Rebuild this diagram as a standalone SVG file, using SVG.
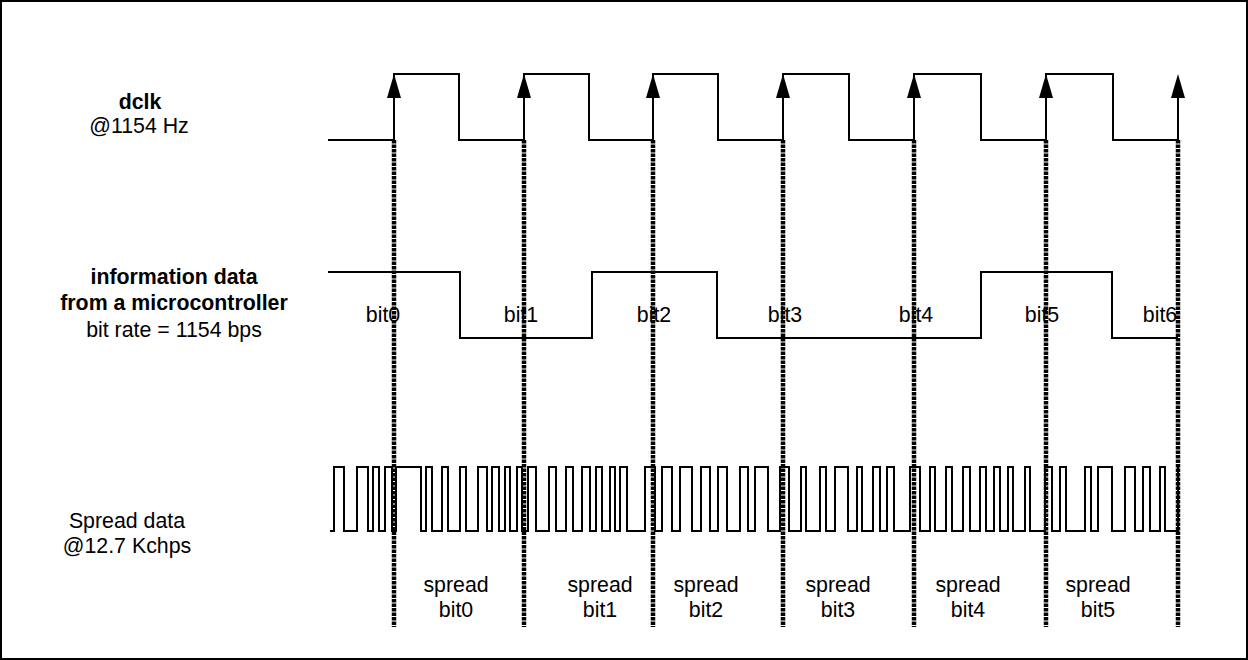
<svg xmlns="http://www.w3.org/2000/svg" width="1248" height="660" viewBox="0 0 1248 660">
<style>
.w{fill:none;stroke:#000;stroke-width:2;stroke-linejoin:miter}
.d{stroke:#000;stroke-width:4.5;stroke-dasharray:3.5 1}
.a{stroke:#000;stroke-width:2}
.h{fill:#000}
.t{font-family:"Liberation Sans",Arial,sans-serif;font-size:21.33px;fill:#000;text-anchor:middle}
.b{font-weight:bold}
</style>
<rect x="1" y="1" width="1246" height="658" fill="#fff" stroke="#000" stroke-width="2"/>
<g id="labels">
<text class="t b" x="140" y="109">dclk</text>
<text class="t" x="139" y="133">@1154 Hz</text>
<text class="t b" x="174" y="284">information data</text>
<text class="t b" x="174" y="310">from a microcontroller</text>
<text class="t" x="174" y="337">bit rate = 1154 bps</text>
<text class="t" x="127" y="528">Spread data</text>
<text class="t" x="127" y="553">@12.7 Kchps</text>
</g>
<g id="connectors">
<path class="d" d="M394,140V627M524,140V627M653,140V627M783,140V627M914,140V627M1046,140V627M1178,140V627"/>
<path class="a" d="M394,140V96M524,140V96M653,140V96M783,140V96M914,140V96M1046,140V96M1178,140V96"/>
<g class="h">
<polygon points="387,98 394,74 401,98"/>
<polygon points="517,98 524,74 531,98"/>
<polygon points="646,98 653,74 660,98"/>
<polygon points="776,98 783,74 790,98"/>
<polygon points="907,98 914,74 921,98"/>
<polygon points="1039,98 1046,74 1053,98"/>
<polygon points="1171,98 1178,74 1185,98"/>
</g>
</g>
<g id="dclk">
<path class="w" d="M328,140H394V74H459V140H524V74H589V140H653V74H718V140H783V74H849V140H914V74H981V140H1046V74H1113V140H1178"/>
</g>
<g id="data">
<path class="w" d="M328,272H460V338H592V272H717V338H981V272H1112V338H1178"/>
<text class="t" x="383" y="322">bit0</text>
<text class="t" x="521" y="322">bit1</text>
<text class="t" x="654" y="322">bit2</text>
<text class="t" x="785" y="322">bit3</text>
<text class="t" x="916" y="322">bit4</text>
<text class="t" x="1042" y="322">bit5</text>
<text class="t" x="1160" y="322">bit6</text>
</g>
<g id="spread">
<path class="w" d="M330,531H334V467H344V531H357V467H368V531H373V467H379V531H385V467H392V531H396V467H421V531H426V467H432V531H442V467H448V531H460V467H466V531H478V467H487V531H492V467H499V531H505V467H510V531H517V467H522V531H528V467H536V531H549V467H556V531H566V467H573V531H582V467H590V531H596V467H602V531H610V467H615V531H620V467H627V531H645V467H655V531H662V467H672V531H680V467H692V531H701V467H710V531H718V467H727V531H740V467H748V531H755V467H768V531H780V467H789V531H801V467H806V531H820V467H826V531H835V467H848V531H857V467H862V531H873V467H880V531H887V467H894V531H910V467H920V531H930V467H935V531H946V467H952V531H963V467H970V531H980V467H986V531H994V467H1000V531H1008V467H1013V531H1025V467H1030V531H1045V467H1052V531H1060V467H1066V531H1085V467H1091V531H1098V467H1112V531H1125V467H1135V531H1143V467H1150V531H1160V467H1165V531H1178V467"/>
</g>
<g id="spread-labels">
<text class="t" x="456" y="592">spread</text><text class="t" x="456" y="617">bit0</text>
<text class="t" x="600" y="592">spread</text><text class="t" x="600" y="617">bit1</text>
<text class="t" x="706" y="592">spread</text><text class="t" x="706" y="617">bit2</text>
<text class="t" x="838" y="592">spread</text><text class="t" x="838" y="617">bit3</text>
<text class="t" x="968" y="592">spread</text><text class="t" x="968" y="617">bit4</text>
<text class="t" x="1098" y="592">spread</text><text class="t" x="1098" y="617">bit5</text>
</g>
</svg>
